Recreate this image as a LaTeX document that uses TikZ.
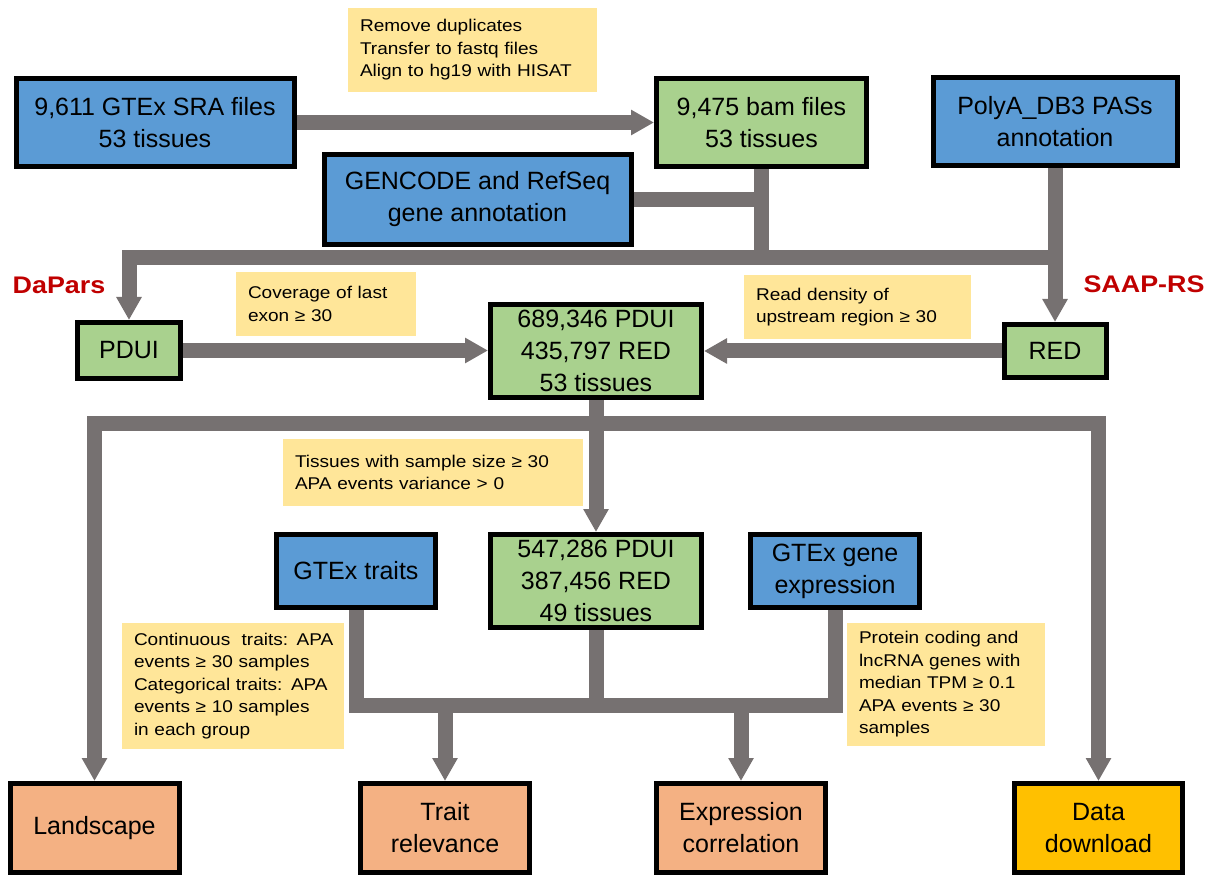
\documentclass[tikz,border=0pt]{standalone}
\usepackage{fontspec}
\setmainfont{Liberation Sans}
\newfontfamily\notefont[FakeStretch=1.12]{Liberation Sans}
\usetikzlibrary{arrows.meta}
\definecolor{cblue}{HTML}{5B9BD5}
\definecolor{cgreen}{HTML}{A9D18E}
\definecolor{corange}{HTML}{F4B183}
\definecolor{cgold}{HTML}{FFC000}
\definecolor{cnote}{HTML}{FFE699}
\definecolor{cgray}{HTML}{767171}
\definecolor{cred}{HTML}{C00000}
\begin{document}
\begin{tikzpicture}[x=1pt,y=-1pt,line join=miter,
 box/.style={draw=black, line width=5pt, inner sep=0pt, align=center, font=\fontsize{25}{32}\selectfont},
 bluebox/.style={box, fill=cblue},
 greenbox/.style={box, fill=cgreen},
 orangebox/.style={box, fill=corange},
 goldbox/.style={box, fill=cgold},
 note/.style={fill=cnote, inner xsep=12pt, inner ysep=0pt, align=left, font=\notefont\fontsize{17}{22.5}\selectfont},
 conn/.style={draw=cgray, line width=15pt},
 arr/.style={conn, -{Triangle[width=24pt,length=23pt]}},
 lab/.style={text=cred, inner sep=0pt, font=\notefont\bfseries\fontsize{24}{28}\selectfont}
]
\useasboundingbox (0,0) rectangle (1208,877);

% boxes
\node[bluebox, minimum width=278pt, minimum height=88pt] (sra) at (155,122.5) {9,611 GTEx SRA files\\53 tissues};
\node[greenbox, minimum width=210pt, minimum height=88pt] (bam) at (761.5,122.5) {9,475 bam files\\53 tissues};
\node[bluebox, minimum width=244pt, minimum height=88pt] (polya) at (1055,121.5) {PolyA\_DB3 PASs\\annotation};
\node[bluebox, minimum width=307pt, minimum height=90pt] (gencode) at (477.5,199.5) {GENCODE and RefSeq\\gene annotation};
\node[greenbox, minimum width=103pt, minimum height=56pt] (pdui) at (129,350.5) {PDUI};
\node[greenbox, minimum width=211pt, minimum height=93pt] (c1) at (596,351) {689,346 PDUI\\435,797 RED\\53 tissues};
\node[greenbox, minimum width=102pt, minimum height=53pt] (red) at (1055,351) {RED};
\node[bluebox, minimum width=159pt, minimum height=73pt] (traits) at (356,571) {GTEx traits};
\node[greenbox, minimum width=211pt, minimum height=93pt] (c2) at (596,581) {547,286 PDUI\\387,456 RED\\49 tissues};
\node[bluebox, minimum width=169pt, minimum height=73pt] (gexp) at (835,571) {GTEx gene\\expression};
\node[orangebox, minimum width=169pt, minimum height=89pt] (land) at (94.5,828) {Landscape};
\node[orangebox, minimum width=169pt, minimum height=89pt] (tr) at (445,828) {Trait\\relevance};
\node[orangebox, minimum width=169pt, minimum height=89pt] (ec) at (741,828) {Expression\\correlation};
\node[goldbox, minimum width=168pt, minimum height=89pt] (dd) at (1098.5,828) {Data\\download};

% notes
\node[note, text width=225pt, minimum height=84pt] (n1) at (472.5,50) {Remove duplicates\\Transfer to fastq files\\Align to hg19 with HISAT};
\node[note, text width=156pt, minimum height=64pt] (n2) at (326,304) {Coverage of last\\exon ≥ 30};
\node[note, text width=203pt, minimum height=64pt] (n3) at (857.5,307) {Read density of\\upstream region ≥ 30};
\node[note, text width=276pt, minimum height=67pt] (n4) at (433,472.5) {Tissues with sample size ≥ 30\\APA events variance > 0};
\node[note, text width=198pt, minimum height=126pt] (n5) at (233,686) {\mbox{Continuous\ \ traits: APA}\\events ≥ 30 samples\\\mbox{Categorical traits: APA}\\events ≥ 10 samples\\in each group};
\node[note, text width=174pt, minimum height=123pt] (n6) at (946,684.5) {Protein coding and\\lncRNA genes with\\median TPM ≥ 0.1\\APA events ≥ 30\\samples};

% labels
\node[lab] (dapars) at (59,285) {DaPars};
\node[lab] (saap) at (1144,284) {SAAP-RS};

% junction levels
\coordinate (hbA) at (0,257.5);
\coordinate (hbB) at (0,423.5);
\coordinate (hbC) at (0,705.5);

% connectors
\draw[arr] (sra.east) -- (sra.east -| bam.west);
\draw[conn] (gencode.east) -- (gencode.east -| bam.south);
\draw[arr] (bam.south) -- (bam.south |- hbA) -| (pdui.north);
\draw[conn, line cap=rect] (bam.south |- hbA) -- (polya.south |- hbA);
\draw[arr] (polya.south) -- (polya.south |- red.north);

\draw[arr] (pdui.east) -- (pdui.east -| c1.west);
\draw[arr] (red.west) -- (red.west -| c1.east);
\draw[arr] (c1.south) -- (c2.north);
\draw[arr] (c1.south |- hbB) -| (land.north);
\draw[arr] (c1.south |- hbB) -| (dd.north);

\draw[conn] (traits.south) |- (gexp.south |- hbC) -- (gexp.south);
\draw[conn] (c2.south) -- (c2.south |- hbC);
\draw[arr] (tr.north |- hbC) -- (tr.north);
\draw[arr] (ec.north |- hbC) -- (ec.north);
\end{tikzpicture}
\end{document}
